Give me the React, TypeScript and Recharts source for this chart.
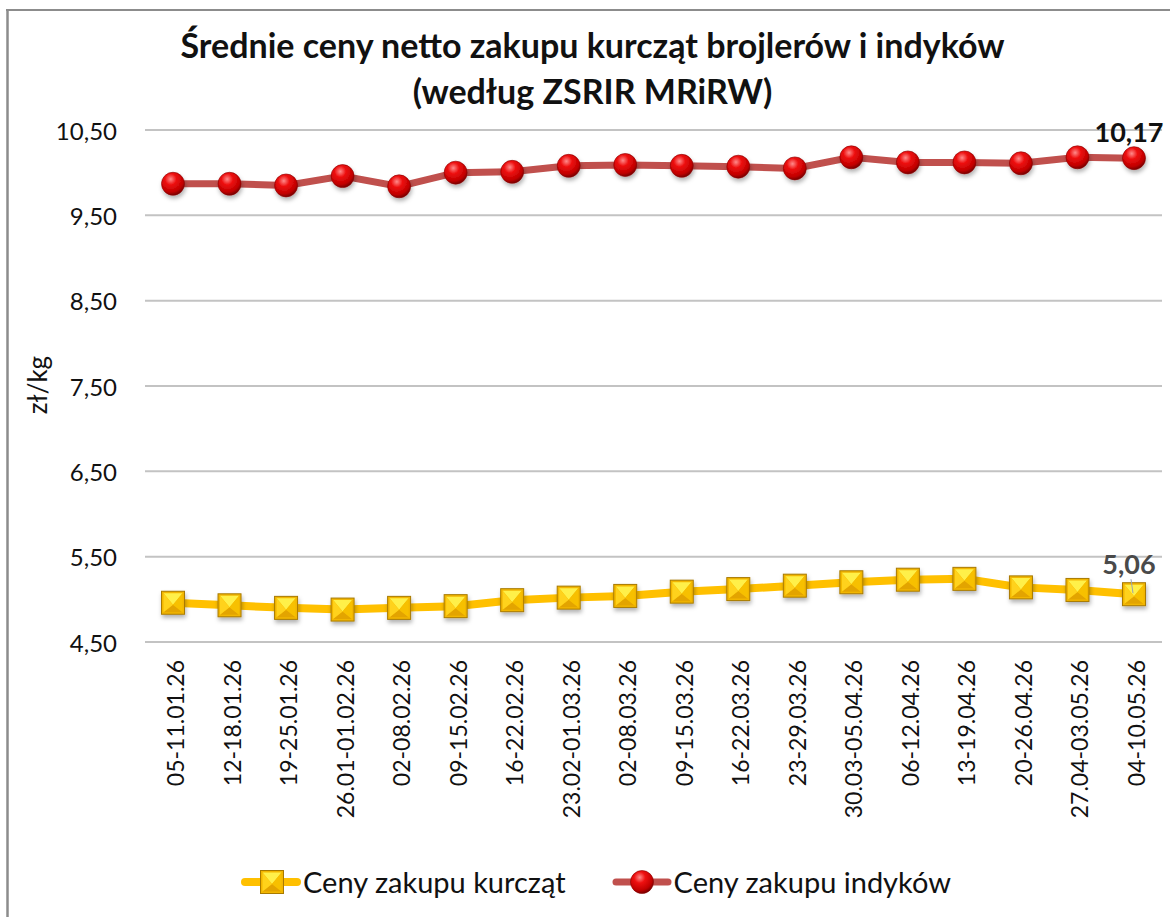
import React from "react";
import { LineChart, Line, XAxis, YAxis, CartesianGrid, LabelList } from "recharts";

const categories = [
  "05-11.01.26", "12-18.01.26", "19-25.01.26", "26.01-01.02.26", "02-08.02.26", "09-15.02.26",
  "16-22.02.26", "23.02-01.03.26", "02-08.03.26", "09-15.03.26", "16-22.03.26", "23-29.03.26",
  "30.03-05.04.26", "06-12.04.26", "13-19.04.26", "20-26.04.26", "27.04-03.05.26", "04-10.05.26",
];
const chickenPrices = [4.96, 4.93, 4.90, 4.88, 4.90, 4.92, 4.99, 5.02, 5.04, 5.09, 5.12, 5.16, 5.20, 5.23, 5.24, 5.14, 5.11, 5.06];
const turkeyPrices = [9.87, 9.87, 9.85, 9.96, 9.84, 10.00, 10.01, 10.08, 10.09, 10.08, 10.07, 10.05, 10.18, 10.12, 10.12, 10.11, 10.18, 10.17];
const yTicks = [4.5, 5.5, 6.5, 7.5, 8.5, 9.5, 10.5];

const title1 = "Średnie ceny netto zakupu kurcząt brojlerów i indyków";
const title2 = "(według ZSRIR MRiRW)";
const yLabel = "zł/kg";
const chickenName = "Ceny zakupu kurcząt";
const turkeyName = "Ceny zakupu indyków";

const data = categories.map((c, i) => ({ cat: c, chicken: chickenPrices[i], turkey: turkeyPrices[i] }));

const FONT = "Lato, 'Open Sans', sans-serif";
const fmt = (v: number) => v.toFixed(2).replace(".", ",");

const RedDot = (props: any) => {
  const { cx, cy } = props;
  if (cx == null || cy == null) return null;
  return (
    <g filter="url(#shadow)">
      <circle cx={cx} cy={cy} r={11.5} fill="url(#redGrad)" stroke="#8a0000" strokeWidth={0.6} />
    </g>
  );
};

const YellowDot = (props: any) => {
  const { cx, cy, noShadow } = props;
  if (cx == null || cy == null) return null;
  const h = 11.5;
  return (
    <g filter={noShadow ? undefined : "url(#shadow)"}>
      <rect x={cx - h} y={cy - h} width={2 * h} height={2 * h} fill="#f2b600" stroke="#a87a00" strokeWidth={1} />
      <polygon points={`${cx - h + 2},${cy - h + 2} ${cx + h - 2},${cy - h + 2} ${cx},${cy + 2}`} fill="#fff04a" />
      <polygon points={`${cx - h + 2},${cy + h - 2} ${cx + h - 2},${cy + h - 2} ${cx},${cy + 2}`} fill="#e3a400" />
      <polygon points={`${cx - h + 2},${cy - h + 2} ${cx},${cy + 2} ${cx - h + 2},${cy + h - 2}`} fill="#ffd21a" />
      <polygon points={`${cx + h - 2},${cy - h + 2} ${cx},${cy + 2} ${cx + h - 2},${cy + h - 2}`} fill="#f7c000" />
    </g>
  );
};

const XTick = (props: any) => {
  const { x, payload } = props;
  return (
    <text
      transform={`translate(${x + 2}, 660) rotate(-90)`}
      textAnchor="end"
      dominantBaseline="central"
      fontFamily={FONT}
      fontSize={23}
      fill="#111"
    >
      {payload.value}
    </text>
  );
};

const YTick = (props: any) => {
  const { y, payload } = props;
  return (
    <text x={117} y={y} textAnchor="end" dominantBaseline="central" fontFamily={FONT} fontSize={24} fill="#111">
      {fmt(payload.value)}
    </text>
  );
};

const lastIndex = categories.length - 1;

const TurkeyLabel = (props: any) => {
  const { x, y, index, value } = props;
  if (index !== lastIndex) return null;
  return (
    <text x={x - 5} y={y - 27} textAnchor="middle" dominantBaseline="central" fontFamily={FONT} fontWeight={700} fontSize={27} fill="#111">
      {fmt(value)}
    </text>
  );
};

const ChickenLabel = (props: any) => {
  const { x, y, index, value } = props;
  if (index !== lastIndex) return null;
  return (
    <g>
      <line x1={x - 3} y1={y - 15} x2={x - 1} y2={y - 1} stroke="#9aa3b0" strokeWidth={1} />
      <text x={x - 5} y={y - 31} textAnchor="middle" dominantBaseline="central" fontFamily={FONT} fontWeight={700} fontSize={27} fill="#4a4a4a">
        {fmt(value)}
      </text>
    </g>
  );
};

export default function App() {
  return (
    <div style={{ position: "fixed", left: 0, top: 0, width: 1170, height: 917, overflow: "hidden", background: "#fff", fontFamily: FONT }}>
      <div style={{ position: "absolute", left: 0, top: 22, width: 1185, textAlign: "center", fontWeight: 700, fontSize: 34, lineHeight: "46px", color: "#111" }}>
        <div>{title1}</div>
        <div>{title2}</div>
      </div>
      <div style={{ position: "absolute", left: 0, top: 0 }}>
        <LineChart width={1170} height={917} data={data} margin={{ top: 130, right: 8, bottom: 75, left: 0 }}>
          <defs>
            <radialGradient id="redGrad" cx="40%" cy="30%" r="70%">
              <stop offset="0%" stopColor="#ff8a8a" />
              <stop offset="35%" stopColor="#ee1010" />
              <stop offset="80%" stopColor="#c00000" />
              <stop offset="100%" stopColor="#7a0000" />
            </radialGradient>
            <filter id="shadow" x="-50%" y="-50%" width="200%" height="200%">
              <feDropShadow dx={1} dy={3} stdDeviation={2} floodColor="#000" floodOpacity={0.3} />
            </filter>
          </defs>
          <line x1={7.5} y1={9} x2={7.5} y2={917} stroke="#8c8c8c" strokeWidth={2.5} />
          <line x1={6} y1={10} x2={1170} y2={10} stroke="#8c8c8c" strokeWidth={2} />
          <CartesianGrid vertical={false} stroke="#c3c3c3" strokeWidth={2} />
          <XAxis
            dataKey="cat"
            axisLine={false}
            tickLine={false}
            height={200}
            interval={0}
            padding={{ left: 28, right: 28 }}
            tick={<XTick />}
          />
          <YAxis
            width={145}
            domain={[4.5, 10.5]}
            ticks={yTicks}
            axisLine={false}
            tickLine={false}
            tick={<YTick />}
          />
          <text x={37} y={385} transform="rotate(-90, 37, 385)" textAnchor="middle" dominantBaseline="central" fontFamily={FONT} fontSize={26} fill="#111">
            {yLabel}
          </text>
          <Line
            type="linear"
            dataKey="turkey"
            name={turkeyName}
            stroke="#c0504d"
            strokeWidth={7}
            dot={<RedDot />}
            activeDot={false}
            isAnimationActive={false}
          >
            <LabelList dataKey="turkey" content={<TurkeyLabel />} />
          </Line>
          <Line
            type="linear"
            dataKey="chicken"
            name={chickenName}
            stroke="#ffc000"
            strokeWidth={8}
            dot={<YellowDot />}
            activeDot={false}
            isAnimationActive={false}
          >
            <LabelList dataKey="chicken" content={<ChickenLabel />} />
          </Line>
        </LineChart>
      </div>
      <div style={{ position: "absolute", left: 243, top: 864, display: "flex", alignItems: "center", fontSize: 29, color: "#111" }}>
        <svg width={56} height={34} style={{ overflow: "visible" }}>
          <defs>
            <radialGradient id="redGradL" cx="40%" cy="30%" r="70%">
              <stop offset="0%" stopColor="#ff8a8a" />
              <stop offset="35%" stopColor="#ee1010" />
              <stop offset="80%" stopColor="#c00000" />
              <stop offset="100%" stopColor="#7a0000" />
            </radialGradient>
          </defs>
          <line x1={2} y1={17} x2={54} y2={17} stroke="#ffc000" strokeWidth={8} strokeLinecap="round" />
          <YellowDot cx={29} cy={17} noShadow />
        </svg>
        <span style={{ marginLeft: 4 }}>{chickenName}</span>
        <svg width={56} height={34} style={{ overflow: "visible", marginLeft: 48 }}>
          <line x1={2} y1={17} x2={54} y2={17} stroke="#c0504d" strokeWidth={7} strokeLinecap="round" />
          <circle cx={28} cy={17} r={11.5} fill="url(#redGradL)" stroke="#8a0000" strokeWidth={0.6} />
        </svg>
        <span style={{ marginLeft: 4 }}>{turkeyName}</span>
      </div>
    </div>
  );
}
